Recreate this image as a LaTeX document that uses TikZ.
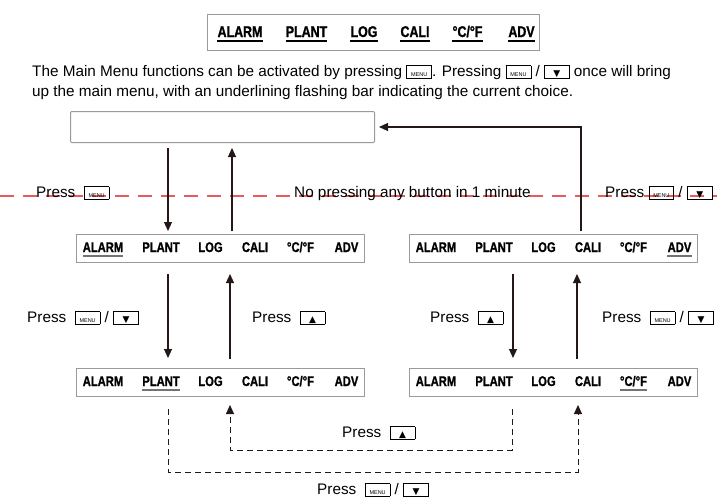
\documentclass[tikz,border=0pt]{standalone}
\usepackage{fontspec}
\setmainfont{Liberation Sans}
\newfontfamily\menufont[FakeStretch=0.8,BoldFeatures={FakeBold=1.2}]{Liberation Sans}
\newfontfamily\symfont{DejaVu Sans}
\usetikzlibrary{arrows.meta,positioning}

\definecolor{dashred}{HTML}{E85A5C}
\definecolor{linedark}{HTML}{231815}
\definecolor{boxgray}{HTML}{9A9A9A}

% key caps used inside the texts
\newcommand{\keybox}[2]{{\setlength{\fboxsep}{0pt}\setlength{\fboxrule}{0.8pt}\fbox{\makebox[#1]{\rule[-2pt]{0pt}{12pt}#2}}}}
\newcommand{\menukey}{\keybox{24pt}{\fontsize{5.5}{5.5}\selectfont MENU}}
\newcommand{\downkey}{\keybox{24pt}{\symfont\fontsize{9}{9}\selectfont ▼}}
\newcommand{\upkey}{\keybox{24pt}{\symfont\fontsize{9}{9}\selectfont ▲}}
\newcommand{\degCF}{°C/°F}

\tikzset{
  menubox/.style={draw=boxgray,line width=1pt,minimum width=288pt,minimum height=28pt,inner sep=0pt,anchor=north west},
  menuitem/.style={font=\menufont\bfseries\fontsize{14}{14}\selectfont,inner sep=0pt,anchor=base},
  titleitem/.style={font=\menufont\bfseries\fontsize{15.5}{15.5}\selectfont,inner sep=0pt,anchor=base},
  selbar/.style={draw=black!55,line width=2pt},
  titlebar/.style={draw=black,line width=2pt},
  lbl/.style={font=\fontsize{15.3}{18}\selectfont,inner sep=0pt,anchor=base west},
  arr/.style={draw=linedark,line width=1.1pt,-{Triangle[length=9pt,width=8pt]}},
  dasharr/.style={draw=linedark,line width=0.9pt,dash pattern=on 6pt off 4pt,-{Triangle[length=9pt,width=8pt]}},
  redline/.style={draw=dashred,line width=1.2pt,dash pattern=on 14pt off 9pt}
}

% one menu line: name, left, top, selected item
\newcommand{\menubar}[4]{%
  \node[menubox] (#1) at (#2,#3) {};
  \foreach \lbl/\dx [count=\k] in {ALARM/27,PLANT/85,LOG/134.5,CALI/179,\degCF/224.5,ADV/270.5}{
    \node[menuitem] (#1-\k) at ([xshift=\dx pt,yshift=-18pt]#1.north west) {\lbl};
    \ifnum\k=#4 \draw[selbar] ([yshift=-4pt]#1-\k.base west) -- ([yshift=-4pt]#1-\k.base east);\fi
  }
}

\begin{document}
\begin{tikzpicture}[x=1pt,y=-1pt]
  \useasboundingbox (0,0) rectangle (717,498);

  % title line
  \node[draw=boxgray,line width=1pt,minimum width=332pt,minimum height=36pt,inner sep=0pt,anchor=north west] (title) at (207,14) {};
  \foreach \lbl/\dx [count=\k] in {ALARM/33,PLANT/99.5,LOG/157,CALI/208,\degCF/260.5,ADV/314.5}{
    \node[titleitem] (title-\k) at ([xshift=\dx pt,yshift=-23pt]title.north west) {\lbl};
    \draw[titlebar] ([yshift=-4pt]title-\k.base west) -- ([yshift=-4pt]title-\k.base east);
  }

  \node[anchor=north west,align=left,inner sep=0pt,font=\fontsize{15.3}{20}\selectfont] (intro) at (32,65)
    {The Main Menu functions can be activated by pressing \menukey. Pressing \menukey\ /\ \downkey\ once will bring\\
     up the main menu, with an underlining flashing bar indicating the current choice.};

  % display and menu lines
  \node[draw=boxgray,line width=1pt,rounded corners=1pt,minimum width=304pt,minimum height=31pt,inner sep=0pt,anchor=north west] (disp) at (70,111) {};
  \menubar{mA}{76}{234}{1}
  \menubar{mB}{409}{234}{6}
  \menubar{mC}{76}{368}{2}
  \menubar{mD}{409}{368}{5}

  % timeout line
  \draw[redline] (0,196) -- (717,196);
  \node[lbl] (pmenu) at (36,197) {Press\ \ \menukey};
  \node[lbl] (idle) at (294,197) {No pressing any button in 1 minute};
  \node[lbl] (pmenu2) at (605,197) {Press \menukey\ /\ \downkey};

  % arrows
  \draw[arr] ([xshift=98pt,yshift=-5pt]disp.south west) -- ([xshift=92pt,yshift=3pt]mA.north west);
  \draw[arr] ([xshift=156pt,yshift=3pt]mA.north west) -- ([xshift=162pt,yshift=-5pt]disp.south west);
  \draw[arr] ([xshift=172pt,yshift=3pt]mB.north west) |- ([xshift=4pt]disp.east);
  \draw[arr] ([xshift=92pt,yshift=-11pt]mA.south west) -- ([xshift=92pt,yshift=10pt]mC.north west);
  \draw[arr] ([xshift=154pt,yshift=9pt]mC.north west) -- ([xshift=154pt,yshift=-11pt]mA.south west);
  \draw[arr] ([xshift=104pt,yshift=-11pt]mB.south west) -- ([xshift=104pt,yshift=10pt]mD.north west);
  \draw[arr] ([xshift=168pt,yshift=9pt]mD.north west) -- ([xshift=168pt,yshift=-11pt]mB.south west);
  \draw[dasharr] ([xshift=92pt,yshift=-12pt]mC.south west) -- ++(0,-63pt) -| ([xshift=169pt,yshift=-8pt]mD.south west);
  \draw[dasharr] ([xshift=103pt,yshift=-12pt]mD.south west) -- ++(0,-41pt) -| ([xshift=154pt,yshift=-8pt]mC.south west);

  % labels
  \node[lbl] (pdownL) at (27,322) {Press\ \ \menukey\ /\ \downkey};
  \node[lbl] (pupL) at (252,322) {Press\ \ \upkey};
  \node[lbl] (pupR) at (430,322) {Press\ \ \upkey};
  \node[lbl] (pdownR) at (602,322) {Press\ \ \menukey\ /\ \downkey};
  \node[lbl] (pupB) at (342,437) {Press\ \ \upkey};
  \node[lbl] (pdownB) at (317,494) {Press\ \ \menukey\ /\ \downkey};
\end{tikzpicture}
\end{document}
